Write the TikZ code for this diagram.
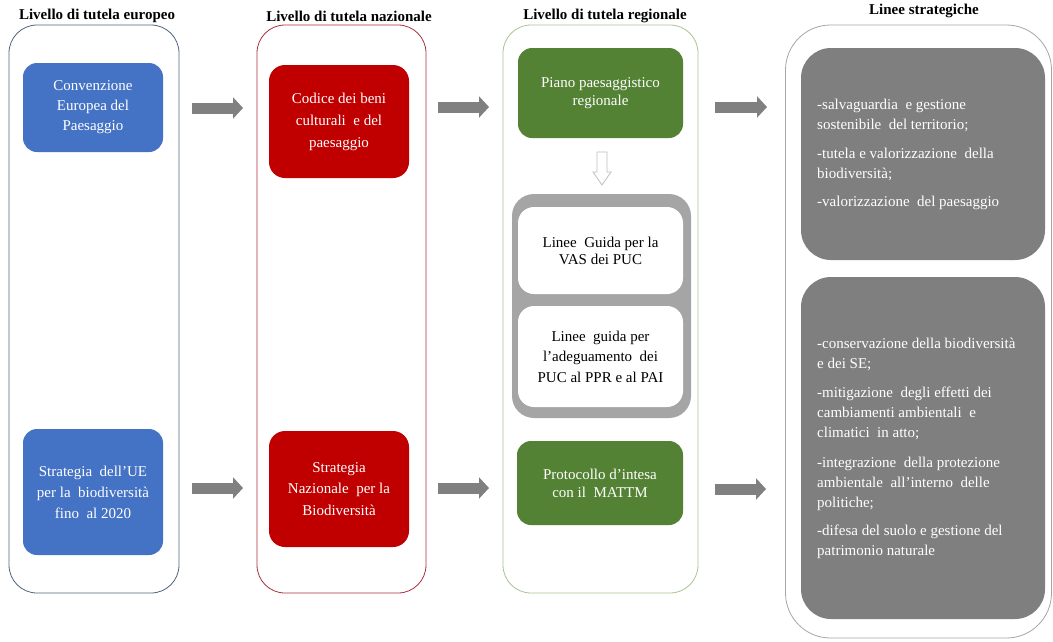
\documentclass[tikz,border=0pt]{standalone}
\usepackage{fontspec}
\setmainfont{Liberation Serif}
\usetikzlibrary{arrows.meta}
\definecolor{cblue}{HTML}{4472C4}
\definecolor{cred}{HTML}{C00000}
\definecolor{cgreen}{HTML}{548235}
\definecolor{cdgray}{HTML}{7F7F7F}
\definecolor{cmgray}{HTML}{A5A5A5}
\definecolor{carrow}{HTML}{808080}
\definecolor{lblue}{HTML}{4E6480}
\definecolor{lred}{HTML}{A8323E}
\definecolor{lgreen}{HTML}{A9C48F}
\definecolor{lgray}{HTML}{A6A6A6}
\definecolor{hollow}{HTML}{BFBFBF}
\tikzset{
  colbox/.style={draw, line width=0.8pt, fill=white, inner sep=0pt},
  title/.style={font=\fontsize{15}{18}\selectfont\bfseries, inner sep=0pt},
  cbox/.style={rounded corners=14pt, inner sep=0pt, align=center, text=white},
  bigarrow/.style={draw=carrow, line width=11pt, -{Triangle[length=10pt,width=21pt]}, carrow},
}
\begin{document}
\begin{tikzpicture}[x=1pt,y=-1pt]
\useasboundingbox (0,0) rectangle (1053,641);
\fill[white] (0,0) rectangle (1053,641);

% titles
\node[title] (t1) at (97,16) {Livello di tutela europeo};
\node[title] (t2) at (349,16) {Livello di tutela nazionale};
\node[title] (t3) at (605,16) {Livello di tutela regionale};
\node[title] (t4) at (924,11) {Linee strategiche};

% column frames
\node[colbox, draw=lblue, rounded corners=28pt, minimum width=170pt, minimum height=568pt] (col1) at (94,309) {};
\node[colbox, draw=lred, rounded corners=28pt, minimum width=169pt, minimum height=568pt] (col2) at (341.5,309) {};
\node[colbox, draw=lgreen, rounded corners=28pt, minimum width=195pt, minimum height=568pt] (col3) at (600.5,309) {};
\node[colbox, draw=lgray, rounded corners=45pt, minimum width=266pt, minimum height=613pt] (col4) at (918.5,331.5) {};

% European level
\node[cbox, fill=cblue, minimum width=140pt, minimum height=89pt, font=\fontsize{15}{20}\selectfont] (eu1) at (93,107.5)
  {Convenzione\\Europea del\\Paesaggio};
\node[cbox, fill=cblue, minimum width=140pt, minimum height=126pt, font=\fontsize{15}{21}\selectfont] (eu2) at (93,492)
  {Strategia\ \ dell'UE\\per la\ \ biodiversità\\fino\ \ al 2020};

% National level
\node[cbox, fill=cred, rounded corners=16pt, minimum width=140pt, minimum height=113pt, font=\fontsize{15}{22}\selectfont] (na1) at (339,121.5)
  {Codice dei beni\\culturali\ \ e del\\paesaggio};
\node[cbox, fill=cred, rounded corners=16pt, minimum width=140pt, minimum height=116pt, font=\fontsize{15}{21.5}\selectfont] (na2) at (339,489)
  {Strategia\\Nazionale\ \ per la\\Biodiversità};

% Regional level
\node[cbox, fill=cgreen, minimum width=165pt, minimum height=90pt, font=\fontsize{15}{17.5}\selectfont] (re1) at (600.5,93)
  {Piano paesaggistico\\regionale};
\node[rounded corners=22pt, fill=cmgray, minimum width=179pt, minimum height=224pt, inner sep=0pt] (grp) at (601.5,306) {};
\node[cbox, fill=white, text=black, rounded corners=16pt, minimum width=165pt, minimum height=87pt, font=\fontsize{15}{17}\selectfont] (lg1) at (600.5,250.5)
  {Linee\ \ Guida per la\\VAS dei PUC};
\node[cbox, fill=white, text=black, rounded corners=16pt, minimum width=165pt, minimum height=101pt, font=\fontsize{15}{20.5}\selectfont] (lg2) at (600.5,356.5)
  {Linee\ \ guida per\\l'adeguamento\ \ dei\\PUC al PPR e al PAI};
\node[cbox, fill=cgreen, minimum width=166pt, minimum height=84pt, font=\fontsize{15}{18}\selectfont] (re2) at (600,483)
  {Protocollo d'intesa\\con il\ \ MATTM};

% hollow down arrow
\draw[hollow, fill=white, line width=0.8pt] (597,152) -- (607,152) -- (607,172) -- (611,172) -- (602,185) -- (593,172) -- (597,172) -- cycle;

% Strategic lines
\node[rounded corners=30pt, fill=cdgray, minimum width=244pt, minimum height=212pt, inner sep=0pt] (sl1) at (923,154) {};
\node[rounded corners=30pt, fill=cdgray, minimum width=244pt, minimum height=342pt, inner sep=0pt] (sl2) at (923,448) {};
\node[anchor=west, align=left, text=white, inner sep=0pt, font=\fontsize{15}{20}\selectfont] (sl1t) at (817,154.5)
  {-salvaguardia\ \ e gestione\\sostenibile\ \ del territorio;\\[9pt]-tutela e valorizzazione\ \ della\\biodiversità;\\[8pt]-valorizzazione\ \ del paesaggio};
\node[anchor=west, align=left, text=white, inner sep=0pt, font=\fontsize{15}{20}\selectfont] (sl2t) at (817,448.5)
  {-conservazione della biodiversità\\e dei SE;\\[9pt]-mitigazione\ \ degli effetti dei\\cambiamenti ambientali\ \ e\\climatici\ \ in atto;\\[10pt]-integrazione\ \ della protezione\\ambientale\ \ all'interno\ \ delle\\politiche;\\[8pt]-difesa del suolo e gestione del\\patrimonio naturale};

% horizontal arrows
\coordinate (a1s) at (192,108); \coordinate (a1e) at (243,108);
\coordinate (a2s) at (438,107); \coordinate (a2e) at (489,107);
\coordinate (a3s) at (715,107); \coordinate (a3e) at (767,107);
\coordinate (b1s) at (192,488); \coordinate (b1e) at (243,488);
\coordinate (b2s) at (438,488); \coordinate (b2e) at (489,488);
\coordinate (b3s) at (715,489); \coordinate (b3e) at (766,489);
\draw[bigarrow] (a1s) -- (a1e);
\draw[bigarrow] (a2s) -- (a2e);
\draw[bigarrow] (a3s) -- (a3e);
\draw[bigarrow] (b1s) -- (b1e);
\draw[bigarrow] (b2s) -- (b2e);
\draw[bigarrow] (b3s) -- (b3e);
\end{tikzpicture}
\end{document}
